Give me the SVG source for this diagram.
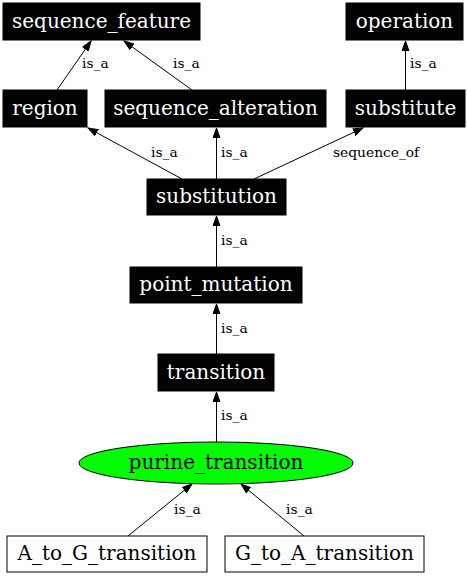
<svg xmlns="http://www.w3.org/2000/svg" width="468" height="576" viewBox="0 0 468 576">
<style>
.bn rect{fill:#000;stroke:#000;stroke-width:1}
.bn text{fill:#fff}
.wn rect{fill:#fff;stroke:#000;stroke-width:1}
text{font-family:"DejaVu Serif","Liberation Serif",serif;text-anchor:middle}
.nl{font-size:20px}
.el{font-size:13.8px;fill:#000;text-anchor:start}
.edges line{stroke:#000;stroke-width:1;marker-end:url(#ah)}
</style>
<defs>
<marker id="ah" markerUnits="userSpaceOnUse" markerWidth="11" markerHeight="8" viewBox="0 -4 11 8" refX="10" refY="0" orient="auto">
<path d="M0,-3.5 L10,0 L0,3.5 z" fill="#000" stroke="#000" stroke-width="1"/>
</marker>
</defs>
<rect width="468" height="576" fill="#fff"/>
<g class="edges">
<line x1="57" y1="90" x2="91" y2="41"/>
<line x1="192" y1="90" x2="124" y2="41"/>
<line x1="405.5" y1="90" x2="405.5" y2="41"/>
<line x1="182" y1="179" x2="88" y2="128"/>
<line x1="216.5" y1="179" x2="216.5" y2="128"/>
<line x1="254" y1="179" x2="363" y2="128"/>
<line x1="216.5" y1="267" x2="216.5" y2="216"/>
<line x1="216.5" y1="354" x2="216.5" y2="304"/>
<line x1="216.5" y1="442" x2="216.5" y2="392"/>
<line x1="128" y1="536" x2="192" y2="484"/>
<line x1="304" y1="536" x2="241" y2="484"/>
<text class="el" x="82" y="68">is_a</text>
<text class="el" x="173" y="68">is_a</text>
<text class="el" x="410" y="68">is_a</text>
<text class="el" x="151" y="157">is_a</text>
<text class="el" x="221" y="157">is_a</text>
<text class="el" x="333" y="157">sequence_of</text>
<text class="el" x="221" y="245">is_a</text>
<text class="el" x="221" y="333">is_a</text>
<text class="el" x="221" y="420">is_a</text>
<text class="el" x="174" y="514">is_a</text>
<text class="el" x="286" y="514">is_a</text>
</g>
<g id="sequence_feature" class="bn"><rect x="3" y="3" width="197" height="37"/><text class="nl" x="101.5" y="27.5">sequence_feature</text></g>
<g id="operation" class="bn"><rect x="346" y="3" width="117" height="37"/><text class="nl" x="404.5" y="27.5">operation</text></g>
<g id="region" class="bn"><rect x="3" y="90" width="84" height="37"/><text class="nl" x="45" y="114.5">region</text></g>
<g id="sequence_alteration" class="bn"><rect x="105" y="90" width="221" height="37"/><text class="nl" x="215.5" y="114.5">sequence_alteration</text></g>
<g id="substitute" class="bn"><rect x="346" y="90" width="119" height="37"/><text class="nl" x="405.5" y="114.5">substitute</text></g>
<g id="substitution" class="bn"><rect x="147" y="179" width="139" height="36"/><text class="nl" x="216.5" y="203">substitution</text></g>
<g id="point_mutation" class="bn"><rect x="130" y="267" width="172" height="36"/><text class="nl" x="216" y="291">point_mutation</text></g>
<g id="transition" class="bn"><rect x="158" y="354" width="116" height="37"/><text class="nl" x="216" y="378.5">transition</text></g>
<g id="purine_transition"><ellipse cx="216" cy="463" rx="137" ry="21" fill="#00ff00" stroke="#000"/><text class="nl" x="216" y="469">purine_transition</text></g>
<g id="A_to_G_transition" class="wn"><rect x="7" y="536" width="200" height="36"/><text class="nl" x="107" y="560">A_to_G_transition</text></g>
<g id="G_to_A_transition" class="wn"><rect x="225" y="536" width="199" height="36"/><text class="nl" x="324.5" y="560">G_to_A_transition</text></g>
</svg>
